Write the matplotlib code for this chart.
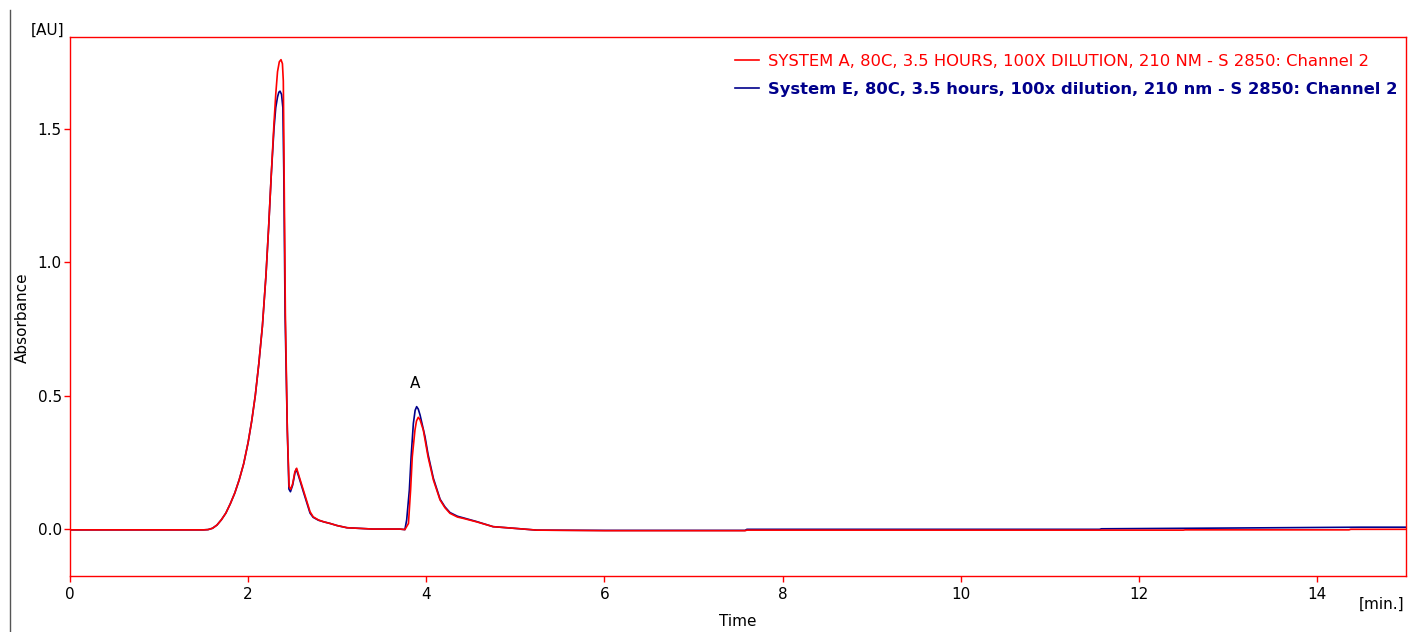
import matplotlib
matplotlib.use("Agg")
import matplotlib.pyplot as plt
from matplotlib.lines import Line2D

# ---- data ----
time_a = [0.0, 0.5, 1.0, 1.5, 1.55, 1.60, 1.65, 1.70, 1.75, 1.80, 1.85, 1.90, 1.95,
          2.00, 2.04, 2.08, 2.12, 2.16, 2.20, 2.23, 2.26, 2.29, 2.31, 2.33, 2.35,
          2.369, 2.385, 2.395, 2.40, 2.405, 2.418, 2.44, 2.46, 2.478, 2.50, 2.525,
          2.545, 2.57, 2.62, 2.695, 2.73, 2.79, 2.85, 2.92, 3.0, 3.11, 3.4, 3.7,
          3.76, 3.80, 3.824, 3.843, 3.873, 3.89, 3.91, 3.93, 3.967, 4.02, 4.08,
          4.155, 4.21, 4.266, 4.35, 4.416, 4.566, 4.75, 4.98, 5.24, 6.0, 7.58, 7.6,
          12.5, 12.52, 14.36, 14.38, 15.0]
abs_a = [-0.003, -0.003, -0.003, -0.003, -0.002, 0.003, 0.015, 0.035, 0.06, 0.095,
         0.135, 0.185, 0.245, 0.325, 0.405, 0.50, 0.62, 0.76, 0.95, 1.13, 1.33,
         1.52, 1.63, 1.715, 1.752, 1.76, 1.745, 1.68, 1.50, 1.30, 0.81, 0.37, 0.16,
         0.149, 0.17, 0.215, 0.228, 0.20, 0.146, 0.065, 0.046, 0.034, 0.027,
         0.021, 0.013, 0.005, 0.0, 0.0, -0.002, 0.021, 0.146, 0.271, 0.371, 0.405,
         0.419, 0.41, 0.371, 0.271, 0.184, 0.109, 0.08, 0.059, 0.045, 0.040, 0.027,
         0.009, 0.003, -0.004, -0.006, -0.006, -0.004, -0.004, -0.003, -0.003,
         -0.001, -0.001]

time_e = [0.0, 0.5, 1.0, 1.5, 1.55, 1.60, 1.65, 1.70, 1.75, 1.80, 1.85, 1.90, 1.95,
          2.00, 2.04, 2.08, 2.12, 2.16, 2.20, 2.23, 2.26, 2.29, 2.31, 2.33, 2.345,
          2.358, 2.375, 2.39, 2.40, 2.415, 2.44, 2.458, 2.475, 2.50, 2.525, 2.54,
          2.57, 2.62, 2.695, 2.73, 2.79, 2.85, 2.92, 3.0, 3.11, 3.4, 3.7, 3.76, 3.78,
          3.81, 3.83, 3.855, 3.875, 3.892, 3.91, 3.93, 3.986, 4.02, 4.08, 4.155,
          4.21, 4.266, 4.35, 4.416, 4.566, 4.75, 4.98, 5.24, 6.0, 7.58, 7.6, 11.56,
          11.58, 13.1, 14.5, 15.0]
abs_e = [-0.003, -0.003, -0.003, -0.003, -0.002, 0.003, 0.015, 0.035, 0.06, 0.095,
         0.135, 0.185, 0.245, 0.325, 0.405, 0.50, 0.62, 0.76, 0.95, 1.13, 1.33,
         1.50, 1.58, 1.62, 1.638, 1.642, 1.63, 1.58, 1.35, 0.80, 0.37, 0.15, 0.14,
         0.165, 0.21, 0.225, 0.195, 0.14, 0.06, 0.044, 0.033, 0.027, 0.021, 0.013,
         0.005, 0.0, 0.0, -0.002, 0.034, 0.146, 0.271, 0.396, 0.445, 0.459, 0.45,
         0.428, 0.346, 0.28, 0.19, 0.112, 0.083, 0.062, 0.048, 0.042, 0.028, 0.009,
         0.003, -0.004, -0.005, -0.005, -0.001, -0.001, 0.001, 0.004, 0.007, 0.007]

label_a = "SYSTEM A, 80C, 3.5 HOURS, 100X DILUTION, 210 NM - S 2850: Channel 2"
label_e = "System E, 80C, 3.5 hours, 100x dilution, 210 nm - S 2850: Channel 2"
x_ticks = [0, 2, 4, 6, 8, 10, 12, 14]
y_ticks = [0.0, 0.5, 1.0, 1.5]
y_tick_labels = ["0.0", "0.5", "1.0", "1.5"]
peak_label = "A"
peak_label_pos = (3.87, 0.547)

# ---- figure ----
W, H = 1410, 632
fig = plt.figure(figsize=(W / 100, H / 100), dpi=100)
ax = fig.add_axes([70 / W, 1 - 576 / H, 1336 / W, 539 / H])

red = "#ff0000"
navy = "#00008b"
ax.plot(time_e, abs_e, color=navy, lw=1.2, label=label_e, zorder=2)
ax.plot(time_a, abs_a, color=red, lw=1.2, label=label_a, zorder=3)

ax.set_xlim(0, 15)
ax.set_ylim(-0.176, 1.845)
ax.set_xticks(x_ticks)
ax.set_yticks(y_ticks)
ax.set_yticklabels(y_tick_labels)
for s in ax.spines.values():
    s.set_color(red)
    s.set_linewidth(1.0)
ax.tick_params(axis="both", colors=red, labelcolor="black", labelsize=11,
               length=4, width=1, direction="out")
ax.tick_params(axis="x", pad=4)
ax.tick_params(axis="y", pad=2)

ax.text(peak_label_pos[0], peak_label_pos[1], peak_label, ha="center",
        va="center", fontsize=11, color="black")

fig.text(22 / W, 1 - 318 / H, "Absorbance", rotation=90, ha="center",
         va="center", fontsize=11)
fig.text(738 / W, 1 - 621 / H, "Time", ha="center", va="center", fontsize=11)
fig.text(48 / W, 1 - 30 / H, "[AU]", ha="center", va="center", fontsize=11)
fig.text(1382 / W, 1 - 604 / H, "[min.]", ha="center", va="center", fontsize=11)

fig.add_artist(Line2D([10 / W, 10 / W], [1 - 10 / H, 0], transform=fig.transFigure,
                      color="#555555", lw=1))

handles, labels = ax.get_legend_handles_labels()
leg = ax.legend(handles[::-1], labels[::-1], loc="upper right",
                bbox_to_anchor=(1397 / W, 1 - 54 / H),
                bbox_transform=fig.transFigure, frameon=False, fontsize=11.8,
                handlelength=1.45, handletextpad=0.55, labelspacing=0.8,
                borderpad=0, borderaxespad=0)
texts = leg.get_texts()
texts[0].set_color(red)
texts[1].set_color(navy)
texts[1].set_fontweight("bold")

fig.savefig("out.png", dpi=100)
